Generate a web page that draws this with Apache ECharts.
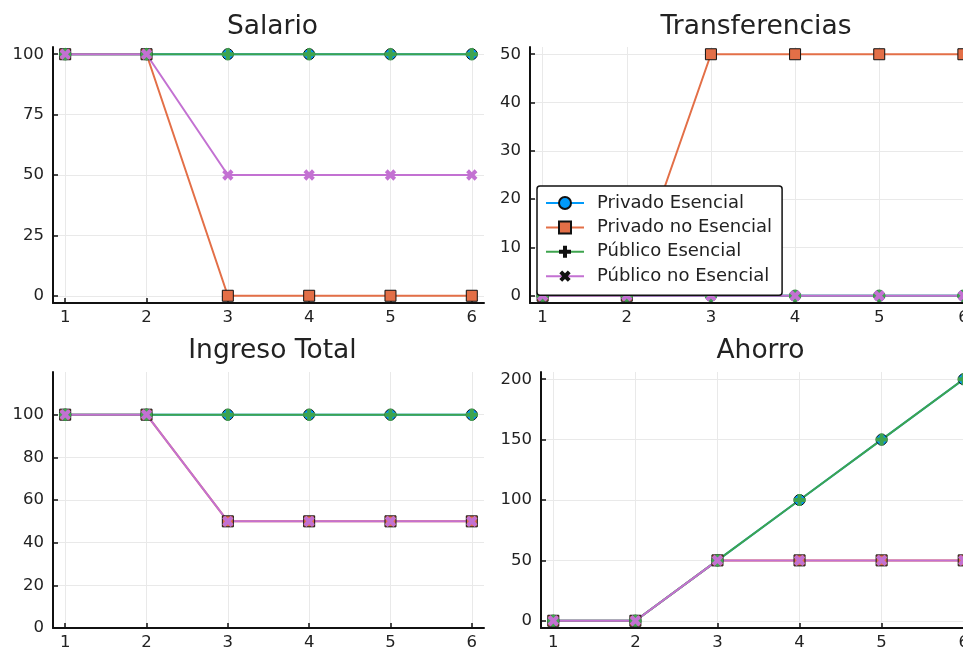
<!DOCTYPE html>
<html>
<head>
<meta charset="utf-8">
<script src="https://cdn.jsdelivr.net/npm/echarts@6/dist/echarts.min.js"></script>
<style>
  html, body { margin: 0; padding: 0; background: #fff; }
  #chart { width: 963px; height: 649px; }
</style>
</head>
<body>
<div id="chart"></div>
<script>
// Periods on the x axis and the four groups of workers
const periods = [1, 2, 3, 4, 5, 6];
const groupNames = ['Privado Esencial', 'Privado no Esencial', 'Público Esencial', 'Público no Esencial'];
const panelTitles = ['Salario', 'Transferencias', 'Ingreso Total', 'Ahorro'];

// Salario
const salarioPrivadoEsencial   = [100, 100, 100, 100, 100, 100];
const salarioPrivadoNoEsencial = [100, 100, 0, 0, 0, 0];
const salarioPublicoEsencial   = [100, 100, 100, 100, 100, 100];
const salarioPublicoNoEsencial = [100, 100, 50, 50, 50, 50];

// Transferencias
const transfPrivadoEsencial   = [0, 0, 0, 0, 0, 0];
const transfPrivadoNoEsencial = [0, 0, 50, 50, 50, 50];
const transfPublicoEsencial   = [0, 0, 0, 0, 0, 0];
const transfPublicoNoEsencial = [0, 0, 0, 0, 0, 0];

// Ingreso Total
const ingresoPrivadoEsencial   = [100, 100, 100, 100, 100, 100];
const ingresoPrivadoNoEsencial = [100, 100, 50, 50, 50, 50];
const ingresoPublicoEsencial   = [100, 100, 100, 100, 100, 100];
const ingresoPublicoNoEsencial = [100, 100, 50, 50, 50, 50];

// Ahorro
const ahorroPrivadoEsencial   = [0, 0, 50, 100, 150, 200];
const ahorroPrivadoNoEsencial = [0, 0, 50, 50, 50, 50];
const ahorroPublicoEsencial   = [0, 0, 50, 100, 150, 200];
const ahorroPublicoNoEsencial = [0, 0, 50, 50, 50, 50];

// Tick labels of each y axis
const yTicksSalario = [0, 25, 50, 75, 100];
const yTicksTransf  = [0, 10, 20, 30, 40, 50];
const yTicksIngreso = [0, 20, 40, 60, 80, 100];
const yTicksAhorro  = [0, 50, 100, 150, 200];

const panelData = [
  [salarioPrivadoEsencial, salarioPrivadoNoEsencial, salarioPublicoEsencial, salarioPublicoNoEsencial],
  [transfPrivadoEsencial, transfPrivadoNoEsencial, transfPublicoEsencial, transfPublicoNoEsencial],
  [ingresoPrivadoEsencial, ingresoPrivadoNoEsencial, ingresoPublicoEsencial, ingresoPublicoNoEsencial],
  [ahorroPrivadoEsencial, ahorroPrivadoNoEsencial, ahorroPublicoEsencial, ahorroPublicoNoEsencial]
];
const yTicks = [yTicksSalario, yTicksTransf, yTicksIngreso, yTicksAhorro];
const yRanges = [[-3, 103], [-1.5, 51.5], [0, 120], [-6, 206]];

// Layout of the 2x2 panels (the right column runs past the page edge)
const grids = [
  { left: 53,  top: 47,  width: 431, height: 256, outerBoundsMode: 'none' },
  { left: 530, top: 47,  width: 446, height: 256, outerBoundsMode: 'none' },
  { left: 53,  top: 372, width: 431, height: 256, outerBoundsMode: 'none' },
  { left: 541, top: 372, width: 435, height: 256, outerBoundsMode: 'none' }
];
const titleCenters = [[267.5, 9], [751, 9], [267.5, 333], [755.5, 333]];

const colors = ['#009AFA', '#E36F47', '#3EA44E', '#C371D2'];
const plusPath = 'path://M-2,-6H2V-2H6V2H2V6H-2V2H-6V-2H-2Z';
const symbols = ['circle', 'rect', plusPath, plusPath];
const symbolRotations = [0, 0, 0, 45];
const symbolSizes = [11, 11, 12, 12];
const symbolBorders = [1, 1, 0, 0];

const FONT = 'DejaVu Sans';
const textColor = '#222';
const gridLine = { show: true, lineStyle: { color: '#e9e9e9', width: 1 } };

const xAxes = grids.map((g, p) => ({
  type: 'value', gridIndex: p, min: 0.85, max: 6.15,
  axisLine: { onZero: false, lineStyle: { color: '#111', width: 2 } },
  axisTick: { inside: true, length: 5, customValues: periods, lineStyle: { color: '#111', width: 1.5 } },
  axisLabel: { customValues: periods, fontSize: 16.5, color: textColor, margin: 6, fontFamily: FONT },
  splitLine: gridLine
}));

const yAxes = grids.map((g, p) => ({
  type: 'value', gridIndex: p, min: yRanges[p][0], max: yRanges[p][1],
  axisLine: { show: true, onZero: false, lineStyle: { color: '#111', width: 2 } },
  axisTick: { show: true, inside: true, length: 5, customValues: yTicks[p], lineStyle: { color: '#111', width: 1.5 } },
  axisLabel: { customValues: yTicks[p], fontSize: 16.5, color: textColor, margin: 9, fontFamily: FONT },
  splitLine: gridLine
}));

const series = [];
panelData.forEach((groups, p) => {
  groups.forEach((values, k) => {
    series.push({
      type: 'line',
      name: groupNames[k],
      xAxisIndex: p,
      yAxisIndex: p,
      data: periods.map((x, i) => [x, values[i]]),
      symbol: symbols[k],
      symbolSize: symbolSizes[k],
      symbolRotate: symbolRotations[k],
      showSymbol: true,
      lineStyle: { color: colors[k], width: 2 },
      itemStyle: { color: colors[k], borderColor: '#111', borderWidth: symbolBorders[k] },
      emphasis: { disabled: true },
      animation: false
    });
  });
});

// Legend entries: the cross markers are shown as black glyphs
const legendData = groupNames.map((name, k) => (k < 2 ? { name } : {
  name,
  itemStyle: { color: '#111', borderWidth: 0 }
}));

const chart = echarts.init(document.getElementById('chart'), null, { renderer: 'canvas' });
chart.setOption({
  backgroundColor: '#fff',
  animation: false,
  title: panelTitles.map((t, p) => ({
    text: t,
    left: titleCenters[p][0],
    top: titleCenters[p][1],
    textAlign: 'center',
    textStyle: { fontSize: 26.5, fontWeight: 'normal', color: textColor, fontFamily: FONT }
  })),
  legend: {
    data: legendData,
    orient: 'vertical',
    left: 537,
    top: 186,
    backgroundColor: '#fff',
    borderColor: '#111',
    borderWidth: 1.5,
    borderRadius: 3,
    padding: [8, 10, 10, 8],
    itemWidth: 38,
    itemHeight: 15,
    itemGap: 6.4,
    textStyle: { fontSize: 18, color: textColor, fontFamily: FONT, padding: [0, 0, 0, 8] }
  },
  grid: grids,
  xAxis: xAxes,
  yAxis: yAxes,
  series: series
});
</script>
</body>
</html>
